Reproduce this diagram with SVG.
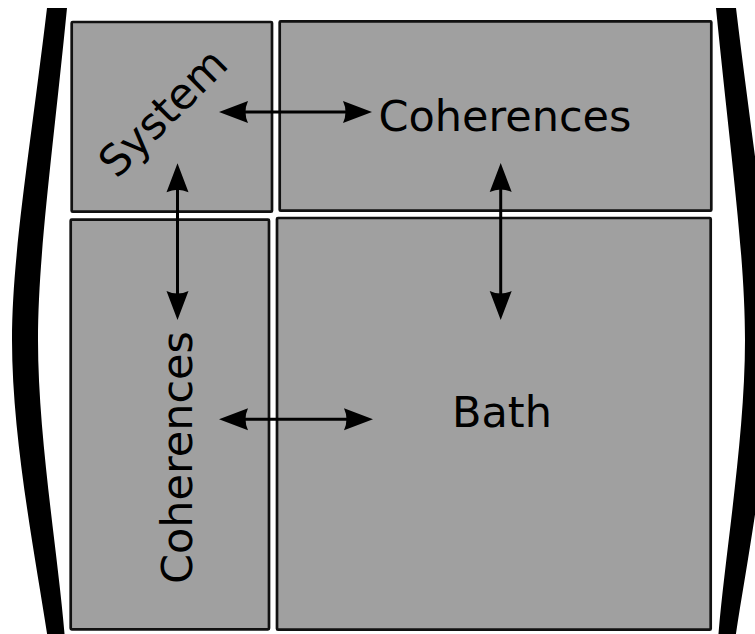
<svg xmlns="http://www.w3.org/2000/svg" width="755" height="634" viewBox="0 0 755 634">
  <style>
    .block { fill: #a0a0a0; stroke: #111; stroke-width: 2.7; }
    .label { font-family: "DejaVu Sans", sans-serif; font-size: 43px; fill: #000; }
    .link { fill: none; stroke: #000; stroke-width: 3; marker-start: url(#head); marker-end: url(#head); }
    .paren { fill: #000; }
  </style>
  <defs>
    <marker id="head" markerUnits="userSpaceOnUse" markerWidth="40" markerHeight="30" refX="0" refY="0" orient="auto-start-reverse" overflow="visible">
      <path d="M10,0 L-19,-11 Q-14,0 -19,11 Z" fill="#000"/>
    </marker>
    <path id="bracket" d="M47,8 C30,150 12,255 12,340 C12,440 36,560 48,640 L65,640 C59,560 38,440 38,340 C38,255 53,150 67,8 Z"/>
  </defs>

  <!-- matrix brackets -->
  <g id="brackets">
    <use href="#bracket" class="paren"/>
    <use href="#bracket" class="paren" transform="matrix(-1 0 0 1 783 0)"/>
  </g>

  <!-- blocks -->
  <g id="system">
    <rect class="block" x="71.7" y="22" width="200.3" height="189.7" rx="1"/>
    <text class="label" text-anchor="middle" transform="translate(173.5,123) rotate(-45)">System</text>
  </g>
  <g id="coherences-top">
    <rect class="block" x="279.7" y="21.3" width="431.6" height="189.4" rx="1"/>
    <text class="label" x="378.5" y="130.5">Coherences</text>
  </g>
  <g id="coherences-left">
    <rect class="block" x="70.7" y="219.7" width="198.3" height="409.6" rx="1"/>
    <text class="label" transform="translate(192,584) rotate(-90)">Coherences</text>
  </g>
  <g id="bath">
    <rect class="block" x="277" y="218" width="433.7" height="411.7" rx="1"/>
    <text class="label" x="502" y="427" text-anchor="middle">Bath</text>
  </g>

  <!-- couplings -->
  <g id="connectors">
    <path class="link" d="M229,112 L362,112"/>
    <path class="link" d="M177.5,173.3 L177.5,310"/>
    <path class="link" d="M500.7,173 L500.7,310"/>
    <path class="link" d="M229,419.3 L363,419.3"/>
  </g>
</svg>
